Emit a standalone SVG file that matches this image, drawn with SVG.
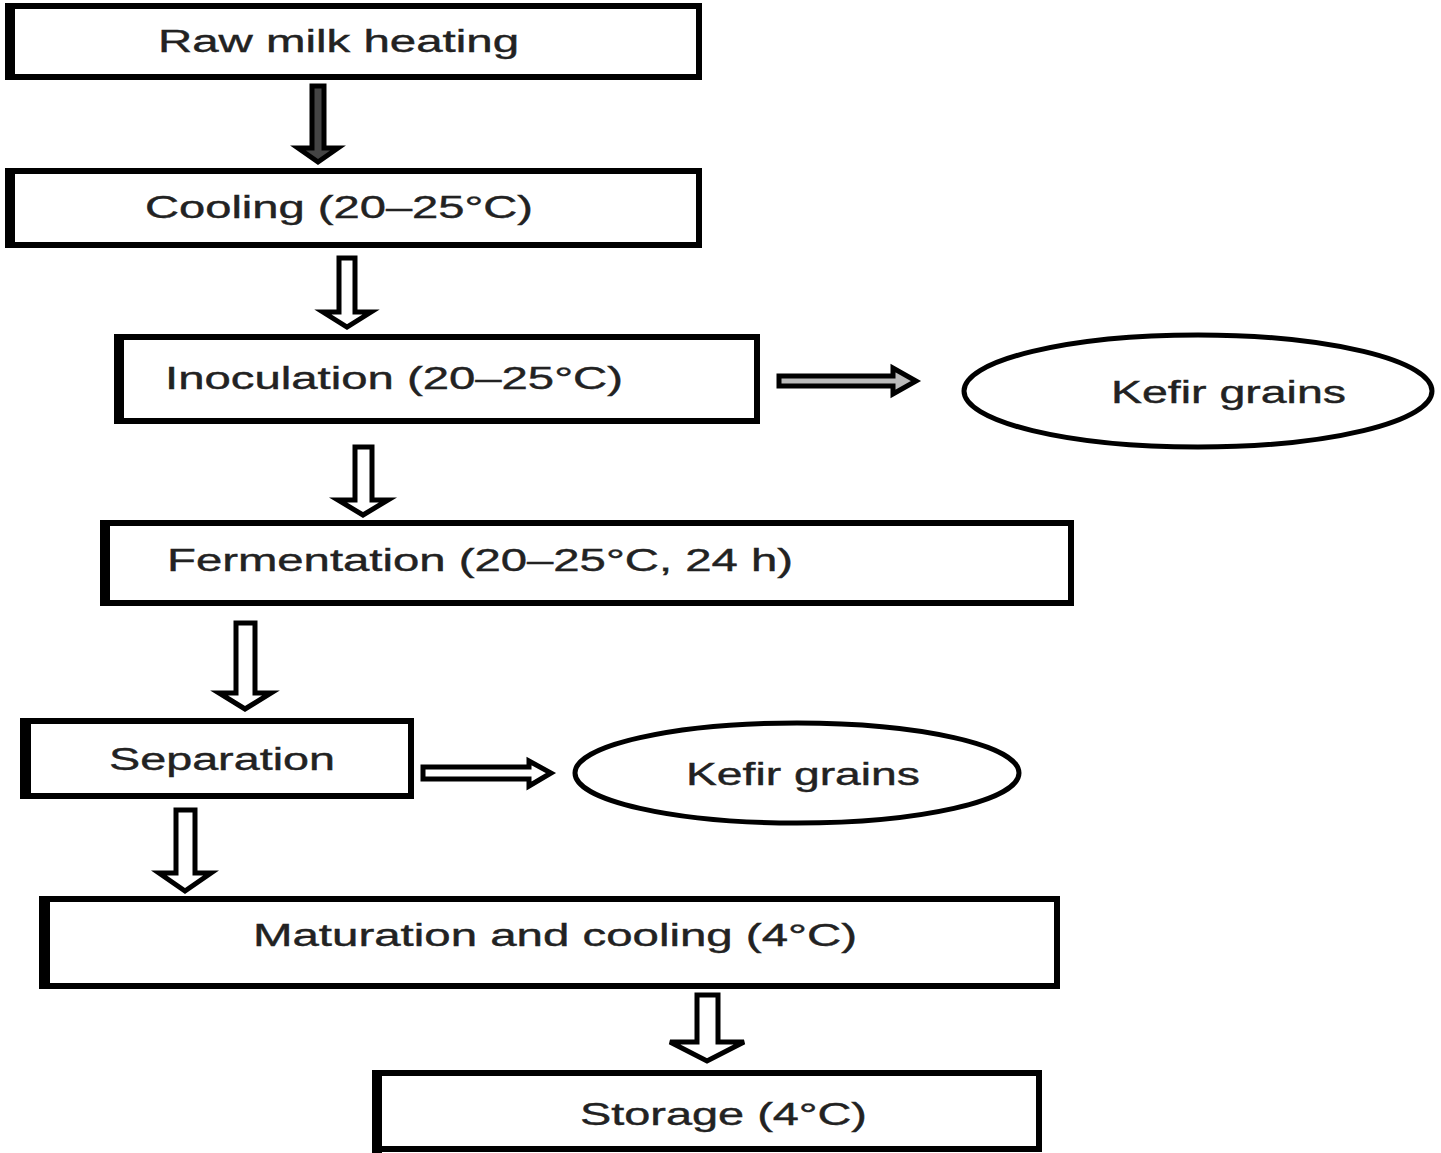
<svg xmlns="http://www.w3.org/2000/svg" width="1441" height="1153" viewBox="0 0 1441 1153">
<style>
.box{fill:#fff;stroke:#000;stroke-width:6}
.lbar{fill:#000}
.oval{fill:#fff;stroke:#000;stroke-width:5}
.lbl{font-family:"Liberation Sans",Arial,sans-serif;font-size:31px;fill:#222;stroke:#222;stroke-width:0.4}
.arr{fill:#fff;stroke:#000;stroke-width:5;stroke-linejoin:miter}
.arr.dark{fill:#444}
.arr.gray{fill:#bbb}
</style>
<rect width="1441" height="1153" fill="#fff"/>
<g id="connectors">
<polygon class="arr dark" points="312,86 324,86 324,148 338,148 318,162 298,148 312,148"/>
<polygon class="arr" points="339,258 355,258 355,312 371,312 347,327 323,312 339,312"/>
<polygon class="arr" points="355,447 372,447 372,500 388,500 363,515 338,500 355,500"/>
<polygon class="arr" points="236,623 255,623 255,693 271,693 245,709 219,693 236,693"/>
<polygon class="arr" points="176,810 195,810 195,873 211,873 185,891 159,873 176,873"/>
<polygon class="arr" points="697,995 718,995 718,1042 744,1042 707,1061 670,1042 697,1042"/>
<polygon class="arr gray" points="779,376 893,376 893,368 916,381 893,394 893,386 779,386"/>
<polygon class="arr" points="423,767 529,767 529,761 551,773 529,786 529,779 423,779"/>
</g>
<g id="n1">
<rect class="box" x="8" y="6" width="691" height="71"/>
<rect class="lbar" x="5" y="3" width="10" height="77"/>
<text class="lbl" x="158" y="52" textLength="361" lengthAdjust="spacingAndGlyphs">Raw milk heating</text>
</g>
<g id="n2">
<rect class="box" x="8" y="171" width="691" height="74"/>
<rect class="lbar" x="5" y="168" width="10" height="80"/>
<text class="lbl" x="145" y="218" textLength="388" lengthAdjust="spacingAndGlyphs">Cooling (20–25°C)</text>
</g>
<g id="n3">
<rect class="box" x="117" y="337" width="640" height="84"/>
<rect class="lbar" x="114" y="334" width="10" height="90"/>
<text class="lbl" x="165" y="389" textLength="458" lengthAdjust="spacingAndGlyphs">Inoculation (20–25°C)</text>
</g>
<g id="n3b">
<ellipse class="oval" cx="1198" cy="391" rx="234" ry="56"/>
<text class="lbl" x="1111" y="403" textLength="235" lengthAdjust="spacingAndGlyphs">Kefir grains</text>
</g>
<g id="n4">
<rect class="box" x="103" y="523" width="968" height="80"/>
<rect class="lbar" x="100" y="520" width="10" height="86"/>
<text class="lbl" x="167" y="571" textLength="626" lengthAdjust="spacingAndGlyphs">Fermentation (20–25°C, 24 h)</text>
</g>
<g id="n5">
<rect class="box" x="23" y="721" width="388" height="75"/>
<rect class="lbar" x="20" y="718" width="11" height="81"/>
<text class="lbl" x="109" y="770" textLength="226" lengthAdjust="spacingAndGlyphs">Separation</text>
</g>
<g id="n5b">
<ellipse class="oval" cx="797" cy="773" rx="222" ry="50"/>
<text class="lbl" x="686" y="785" textLength="234" lengthAdjust="spacingAndGlyphs">Kefir grains</text>
</g>
<g id="n6">
<rect class="box" x="42" y="899" width="1015" height="87"/>
<rect class="lbar" x="39" y="896" width="11" height="93"/>
<text class="lbl" x="253" y="946" textLength="604" lengthAdjust="spacingAndGlyphs">Maturation and cooling (4°C)</text>
</g>
<g id="n7">
<rect class="box" x="375" y="1073" width="664" height="76"/>
<rect class="lbar" x="372" y="1070" width="10" height="83"/>
<text class="lbl" x="580" y="1125" textLength="287" lengthAdjust="spacingAndGlyphs">Storage (4°C)</text>
</g>
</svg>
